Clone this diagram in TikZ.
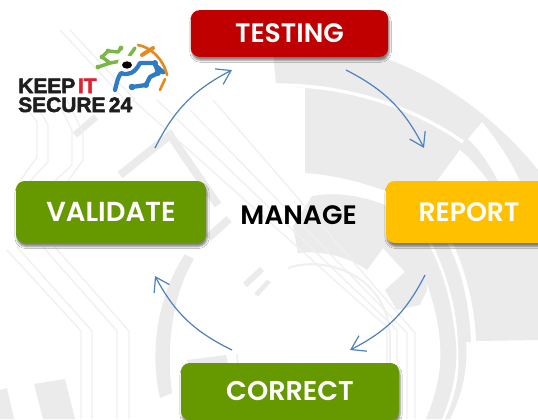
\documentclass[tikz,border=0pt]{standalone}
\usepackage{fontspec}
\setmainfont{Poppins}[BoldFont={Poppins SemiBold}]
\newfontfamily\logofont[FakeStretch=1.0,BoldFeatures={FakeBold=2.5}]{Liberation Sans}
\usetikzlibrary{arrows.meta,shadows.blur}
\definecolor{wm}{HTML}{EBEBEB}
\definecolor{wl}{HTML}{F0F0F0}
\definecolor{arrowblue}{HTML}{4F81BD}
\definecolor{logogreen}{HTML}{7AB648}
\definecolor{logoblue}{HTML}{2F7CC4}
\definecolor{logoorange}{HTML}{E58A1F}
\tikzset{
  x=0.75pt,y=-0.75pt,
  stepbox/.style={rounded corners=6.5pt,minimum height=46.5pt,text=white,inner sep=0pt,font=\fontsize{20}{20}\selectfont\bfseries,
    blur shadow={shadow xshift=0.8pt,shadow yshift=-2.5pt,shadow blur radius=1.6pt,shadow opacity=50}},
  flow/.style={draw=arrowblue,line width=0.9pt,-{Straight Barb[length=10pt,width=13pt,line width=0.9pt]},bend left=#1},
  flow/.default=20,
  wmband/.style={draw=wm,line width=#1,line cap=butt},
  wmline/.style={draw=wl,line width=1pt},
  logotext/.style={inner sep=0pt,anchor=base west,font=\logofont\bfseries\fontsize{15.7}{15.7}\selectfont},
  gnet/.style={draw=logogreen,line width=2.6pt,line cap=round,line join=round},
  bnet/.style={draw=logoblue,line width=3.2pt,line cap=round,line join=round},
  onet/.style={draw=logoorange,line width=2pt,line cap=round}
}
\begin{document}
\begin{tikzpicture}
\useasboundingbox (0,0) rectangle (538,419);
\clip (0,0) rectangle (538,419);
\fill[white] (0,0) rectangle (538,419);
% outer ring of the watermark, with its inner sector
\fill[wm] (273,50) -- (375,50) -- (390,60) .. controls (430,75) and (490,110) .. (538,170) -- (538,190)
  -- (383,190) .. controls (360,182) and (335,175) .. (305,173) -- (305,88) -- (276,85) -- cycle;
\draw[white,line width=2.5pt] (276,85) .. controls (345,85) and (410,105) .. (463,142);
\fill[white] (482,122) -- (468,139) .. controls (480,150) and (490,165) .. (498,181) -- (520,181) .. controls (510,160) and (497,140) .. (482,122) -- cycle;
\fill[white] (460,150) -- (437,181) -- (488,181) .. controls (480,170) and (470,158) .. (460,150) -- cycle;
\draw[white,line width=2.5pt] (320,182) .. controls (345,183) and (368,189) .. (387,197);
% lower sector beside MANAGE
\fill[wm] (293,226) -- (298,253) .. controls (325,250) and (350,258) .. (367,270) -- (383,248) -- (405,272) -- (385,290) -- (397,310) -- (420,305)
  -- (427,290) -- (425,255) -- (400,235) -- (385,205) .. controls (360,195) and (335,192) .. (312,196) -- cycle;
% right ring and block
\fill[wm] (428,243) .. controls (445,275) and (452,305) .. (456,343) .. controls (458,370) and (452,395) .. (442,419) -- (426,419) .. controls (438,390) and (442,365) .. (440,343)
  .. controls (438,310) and (425,275) .. (410,243) -- cycle;
\fill[wm] (447,243) .. controls (460,265) and (469,300) .. (471,342) -- (466,342) .. controls (468,370) and (462,395) .. (450,419) -- (445,419) .. controls (456,395) and (460,375) .. (458,345) .. controls (457,305) and (445,270) .. (432,243) -- cycle;
\fill[wm] (453,243) -- (538,243) -- (538,340) -- (476,341) .. controls (475,305) and (465,270) .. (453,243) -- cycle;
% left ring, blocks
\fill[wm] (185,254) -- (194,259) .. controls (175,290) and (165,340) .. (172,393) -- (160,398) .. controls (149,350) and (158,295) .. (185,254) -- cycle;
\fill[wm] (187,360) -- (226,355) -- (229,367) -- (189,367) -- cycle;
\fill[wm] (34,384) -- (65,379) -- (75,419) -- (43,419) -- cycle;
\fill[wm] (0,390) -- (7,388) -- (14,419) -- (0,419) -- cycle;
\draw[wl,line width=1.5pt] (237,354) -- (238,366);
% thick strokes
\draw[wmband=4.5pt] (262,269) -- (245,285);
\draw[wmband=3.5pt] (269,281) -- (256,295);
\draw[wmband=5pt] (96,117) -- (75,135);
\draw[wmband=6pt,line join=miter] (120,175) -- (170,135) -- (218,205);
\draw[wmband=6pt] (229,219) -- (208,238);
% traces
\draw[wmline] (20,100) -- (37,122) -- (37,157) -- (20,181);
\draw[wmline] (33,100) -- (48,125) -- (48,162) -- (30,181);
\draw[wmline] (57,100) -- (72,130) -- (72,165) -- (55,181);
\draw[wmline] (67,100) -- (83,133) -- (83,160) -- (68,181);
\draw[wmline] (60,30) -- (125,100);
\draw[wmline] (70,30) -- (135,100);
\draw[wmline] (7,250) -- (81,331) -- (81,419);
\draw[wmline] (17,247) -- (92,331) -- (92,419);
\draw[wmline] (43,247) -- (117,331) -- (117,419);
\draw[wmline] (55,247) -- (129,331) -- (129,419);
\draw[wmline] (133,100) -- (387,327) -- (387,419);
\draw[wmline] (157,100) -- (397,330) -- (397,419);
\draw[wmline] (190,110) -- (407,333) -- (407,419);
\draw[wmline] (213,100) -- (415,333) -- (415,419);
\draw[wl,line width=1.6pt] (288,268) .. controls (325,255) and (390,275) .. (390,340) -- (390,365);
% boxes
\node[stepbox,fill={rgb,255:red,192;green,0;blue,0},minimum width=148pt,minimum height=35pt] (testing) at (289.5,33.5) {TESTING};
\node[stepbox,fill={rgb,255:red,255;green,192;blue,0},minimum width=124.5pt] (report) at (469,212) {REPORT};
\node[stepbox,fill={rgb,255:red,102;green,153;blue,0},minimum width=142.5pt,font=\fontsize{20.6}{20.6}\selectfont\bfseries] (validate) at (111,212) {VALIDATE};
\node[stepbox,fill={rgb,255:red,102;green,153;blue,0},minimum width=163.5pt,minimum height=42.75pt,font=\fontsize{20.3}{20.3}\selectfont\bfseries] (correct) at (290,391.5) {CORRECT};
\node[inner sep=0pt,text=black,font=\fontsize{20}{20}\selectfont\bfseries] (manage) at (298.5,215) {MANAGE};
% connectors
\coordinate (a1) at (346,70); \coordinate (a2) at (424,148);
\coordinate (b1) at (425,275); \coordinate (b2) at (350,350);
\coordinate (c1) at (232,350); \coordinate (c2) at (155,276);
\coordinate (d1) at (155,148); \coordinate (d2) at (232,70);
\draw[flow=18] (a1) to (a2);
\draw[flow=18] (b1) to (b2);
\draw[flow=18] (c1) to (c2);
\draw[flow=18] (d1) to (d2);
% logo
\node[logotext,text={rgb,255:red,30;green,30;blue,30}] (keep) at (18,93) {KEEP\hspace{2pt}\textcolor[HTML]{E5202E}{IT}};
\node[logotext,text={rgb,255:red,30;green,30;blue,30}] (secure) at (18,112) {SECURE\hspace{2.5pt}24};
\draw[gnet] (98,67) -- (110,63) -- (102,57) -- (108,51) -- (118,52) -- (121,48);
\draw[gnet] (110,63) -- (127,60) -- (130,55) -- (135,48);
\fill[logogreen] (98,67) circle (2.4) (102,57) circle (2.4) (108,51) circle (2.4) (121,48) circle (2.4);
\fill[white] (127,65) circle (9.5);
\draw[bnet] (115,90) .. controls (117,82) and (118,77) .. (121,73) .. controls (128,76) and (135,73) .. (140,63) -- (155,63) -- (158,73) -- (150,77) -- (146,85) -- (132,87);
\draw[bnet] (155,65) -- (163,72);
\fill[logoblue] (155,63) circle (3) (158,73) circle (3) (146,85) circle (3) (132,87) circle (3.3) (163,72) circle (2.4);
\fill[black] (127,65) ellipse (5 and 3.7);
\draw[onet] (138,45) .. controls (150,47) and (163,58) .. (167,75);
\draw[onet] (165,79) -- (160,90);
\draw[onet,line width=3pt] (142,55) -- (153,48);
\end{tikzpicture}
\end{document}
